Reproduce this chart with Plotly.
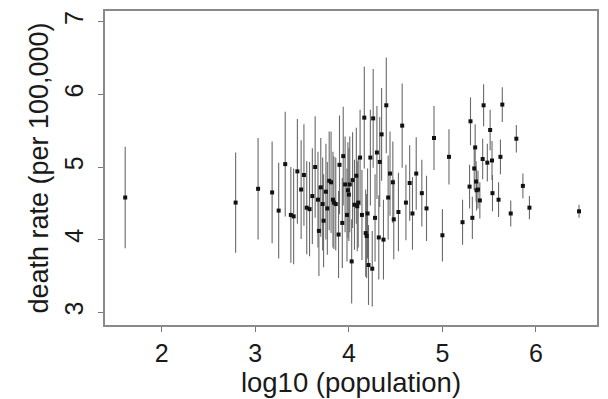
import plotly.graph_objects as go

# log10(population), estimated death rate, and +/- error half-width
log_pop = [1.61, 2.79, 3.03, 3.18, 3.25, 3.32, 3.38, 3.41, 3.45, 3.49,
           3.52, 3.55, 3.58, 3.61, 3.64, 3.67, 3.68, 3.70, 3.72, 3.73,
           3.755, 3.77, 3.79, 3.81, 3.83, 3.84, 3.86, 3.89, 3.90, 3.93,
           3.94, 3.96, 3.98, 3.99, 4.00, 4.01, 4.03, 4.04, 4.06, 4.08,
           4.09, 4.10, 4.12, 4.14, 4.165, 4.18, 4.19, 4.20, 4.21, 4.23,
           4.25, 4.26, 4.28, 4.30, 4.32, 4.33, 4.35, 4.37, 4.40, 4.42,
           4.44, 4.47, 4.48, 4.53, 4.57, 4.61, 4.65, 4.68, 4.72, 4.78,
           4.83, 4.91, 5.00, 5.07, 5.215, 5.29, 5.30, 5.32, 5.34, 5.35,
           5.36, 5.365, 5.38, 5.40, 5.43, 5.44, 5.48, 5.51, 5.53, 5.535,
           5.60, 5.62, 5.64, 5.73, 5.79, 5.86, 5.93, 6.46]

death_rate = [4.58, 4.51, 4.70, 4.65, 4.40, 5.04, 4.34, 4.32, 4.94, 4.69,
              4.89, 4.44, 4.42, 4.60, 5.00, 4.55, 4.12, 4.72, 4.49, 4.26,
              4.66, 4.43, 4.81, 4.79, 4.55, 4.51, 4.49, 4.07, 5.03, 4.23,
              5.15, 4.76, 4.34, 4.68, 4.62, 4.76, 3.70, 4.82, 4.48, 4.88,
              4.46, 4.51, 5.13, 4.34, 5.68, 4.09, 4.05, 4.36, 3.65, 5.13,
              3.60, 5.67, 4.30, 5.20, 4.03, 5.07, 5.45, 4.00, 5.85, 4.58,
              4.91, 4.79, 4.28, 4.38, 5.57, 4.51, 4.78, 4.36, 4.91, 4.64,
              4.43, 5.40, 4.06, 5.14, 4.24, 4.73, 5.63, 4.30, 4.98, 5.27,
              4.80, 4.68, 4.69, 4.54, 5.11, 5.85, 5.06, 5.51, 5.09, 4.64,
              4.55, 5.14, 5.86, 4.36, 5.39, 4.74, 4.44, 4.39]

err_half = [0.70, 0.69, 0.70, 0.70, 0.66, 0.72, 0.66, 0.66, 0.72, 0.68,
            0.70, 0.64, 0.65, 0.66, 0.70, 0.66, 0.62, 0.68, 0.64, 0.64,
            0.66, 0.64, 0.68, 0.70, 0.66, 0.64, 0.64, 0.60, 0.68, 0.62,
            0.68, 0.66, 0.64, 0.66, 0.64, 0.66, 0.58, 0.66, 0.62, 0.66,
            0.62, 0.62, 0.66, 0.62, 0.70, 0.60, 0.58, 0.62, 0.55, 0.66,
            0.52, 0.68, 0.60, 0.64, 0.58, 0.62, 0.64, 0.55, 0.66, 0.58,
            0.58, 0.56, 0.55, 0.54, 0.58, 0.52, 0.52, 0.50, 0.50, 0.46,
            0.45, 0.44, 0.36, 0.38, 0.31, 0.30, 0.33, 0.29, 0.30, 0.32,
            0.28, 0.28, 0.26, 0.25, 0.28, 0.29, 0.26, 0.28, 0.27, 0.25,
            0.24, 0.24, 0.24, 0.18, 0.19, 0.17, 0.16, 0.09]

x_ticks = [2, 3, 4, 5, 6]
y_ticks = [3, 4, 5, 6, 7]

FONT = "Liberation Sans, Arial, Helvetica, sans-serif"

fig = go.Figure()
fig.add_trace(go.Scatter(
    x=log_pop, y=death_rate, mode="markers",
    marker=dict(symbol="square", size=4, color="#111111"),
    error_y=dict(type="data", array=err_half, visible=True,
                 thickness=1.1, width=0, color="#6a6a6a"),
    showlegend=False, hoverinfo="skip",
))

axis_common = dict(
    showgrid=False, zeroline=False, showline=True, mirror=True,
    linecolor="#8a8a8a", linewidth=1.5,
    ticks="outside", ticklen=5, tickwidth=1, tickcolor="#777777",
    tickfont=dict(family=FONT, size=25, color="#1a1a1a"),
)

fig.update_layout(
    width=608, height=399,
    margin=dict(l=105, r=11, t=9, b=70),
    paper_bgcolor="white", plot_bgcolor="white",
    xaxis=dict(range=[1.394, 6.652], tickvals=x_ticks,
               title=dict(text="log10 (population)",
                          font=dict(family=FONT, size=27.5, color="#1a1a1a"),
                          standoff=4),
               **axis_common),
    yaxis=dict(range=[2.824, 7.149], tickvals=y_ticks, tickangle=-90,
               ticklabelstandoff=5,
               title=dict(text="death rate (per 100,000)",
                          font=dict(family=FONT, size=27, color="#1a1a1a"),
                          standoff=4),
               **axis_common),
)

fig.write_html("out.html")
